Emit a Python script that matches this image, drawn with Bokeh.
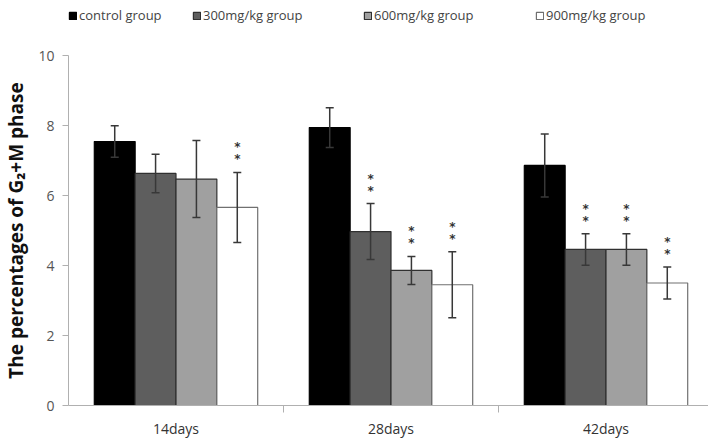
from bokeh.plotting import figure
from bokeh.layouts import column
from bokeh.models import FixedTicker, Legend, LegendItem, ColumnDataSource
from bokeh.core.properties import value
from bokeh.embed import file_html
from bokeh.resources import INLINE

categories = ["14days", "28days", "42days"]
groups = ["control group", "300mg/kg group", "600mg/kg group", "900mg/kg group"]
means = {
    "control group":  [7.54, 7.94, 6.86],
    "300mg/kg group": [6.63, 4.97, 4.46],
    "600mg/kg group": [6.47, 3.86, 4.46],
    "900mg/kg group": [5.66, 3.45, 3.50],
}
errors = {
    "control group":  [0.45, 0.57, 0.90],
    "300mg/kg group": [0.55, 0.80, 0.45],
    "600mg/kg group": [1.10, 0.40, 0.45],
    "900mg/kg group": [1.00, 0.94, 0.46],
}
stars = {
    "control group":  ["", "", ""],
    "300mg/kg group": ["", "*", "*"],
    "600mg/kg group": ["", "*", "*"],
    "900mg/kg group": ["*", "*", "*"],
}
fills = ["#000000", "#5e5e5e", "#a0a0a0", "#ffffff"]
outlines = ["#000000", "#303030", "#303030", "#707070"]
y_ticks = [0, 2, 4, 6, 8, 10]

FONT = "Open Sans"
bw = 0.19
x_end = 640 / 215.0
FRAME_LEFT = 68

# ---- legend strip ----
LH = 30
lf = figure(width=708, height=LH, x_range=(0, 1), y_range=(1, 2),
            x_axis_location=None, y_axis_location=None,
            output_backend="svg", toolbar_location=None,
            min_border_left=0, min_border_right=0, min_border_top=0, min_border_bottom=0)
lf.grid.visible = False
lf.outline_line_color = None
leg_x = [37, 192, 363, 535]
for gi, g in enumerate(groups):
    # legend swatch source (kept outside the visible range of this strip)
    dr = lf.vbar(x=[0], top=[0], width=0.01, fill_color=fills[gi],
                 line_color=outlines[gi], line_width=1.2)
    lg = Legend(items=[LegendItem(label=g, renderers=[dr])],
                location=(max(0, leg_x[gi] - FRAME_LEFT), 6), orientation="horizontal",
                glyph_width=9, glyph_height=9, label_standoff=2, padding=0, margin=0,
                spacing=0, border_line_alpha=0, background_fill_alpha=0,
                label_text_font=FONT, label_text_font_size="13px",
                label_text_color="#444444")
    lf.add_layout(lg, "center")

# ---- main chart ----
p = figure(width=708, height=440 - LH, x_range=(0, x_end), y_range=(0, 10),
           output_backend="svg", toolbar_location=None,
           min_border_left=FRAME_LEFT, min_border_right=0, min_border_top=55 - LH, min_border_bottom=35)
p.outline_line_color = None
p.grid.grid_line_color = None
p.background_fill_color = "white"

for gi, g in enumerate(groups):
    off = (gi - 1.5) * bw
    xs = [i + 0.5 + off for i in range(len(categories))]
    top = means[g]
    lo = [m - e for m, e in zip(top, errors[g])]
    hi = [m + e for m, e in zip(top, errors[g])]
    src = ColumnDataSource(dict(x=xs, top=top, lo=lo, hi=hi, st=stars[g]))
    p.vbar(x="x", top="top", width=bw, bottom=0, source=src,
           fill_color=fills[gi], line_color=outlines[gi], line_width=1.2)
    p.segment(x0="x", y0="lo", x1="x", y1="hi", source=src, line_color="#383838", line_width=1.5)
    p.scatter(x="x", y="lo", source=src, marker="dash", size=8, line_color="#383838", line_width=1.5)
    p.scatter(x="x", y="hi", source=src, marker="dash", size=8, line_color="#383838", line_width=1.5)
    for yo in (-13, -25):
        p.text(x="x", y="hi", text="st", source=src, y_offset=yo,
               text_align="center", text_baseline="middle", text_font=value("DejaVu Sans"),
               text_font_size="12px", text_color="#333333", text_font_style="bold")

p.yaxis.ticker = FixedTicker(ticks=y_ticks)
p.yaxis.axis_line_color = "#b0b0b0"
p.yaxis.major_tick_line_color = "#b0b0b0"
p.yaxis.major_tick_out = 6
p.yaxis.major_tick_in = 0
p.yaxis.minor_tick_line_color = None
p.yaxis.major_label_text_font = FONT
p.yaxis.major_label_text_font_size = "14px"
p.yaxis.major_label_text_color = "#555555"
p.yaxis.major_label_standoff = 8
p.yaxis.axis_label = "The percentages of G\u2082+M phase"
p.yaxis.axis_label_text_font = FONT
p.yaxis.axis_label_text_font_size = "19px"
p.yaxis.axis_label_text_font_style = "bold"
p.yaxis.axis_label_text_color = "#111111"
p.yaxis.axis_label_standoff = 6

p.xaxis.ticker = FixedTicker(ticks=[i + 0.5 for i in range(len(categories))],
                             minor_ticks=[float(i) for i in range(1, len(categories))])
p.xaxis.major_label_overrides = {i + 0.5: c for i, c in enumerate(categories)}
p.xaxis.axis_line_color = "#b0b0b0"
p.xaxis.major_tick_line_color = None
p.xaxis.minor_tick_line_color = "#b0b0b0"
p.xaxis.minor_tick_out = 7
p.xaxis.minor_tick_in = 0
p.xaxis.major_label_standoff = 6
p.xaxis.major_label_text_font = FONT
p.xaxis.major_label_text_font_size = "14px"
p.xaxis.major_label_text_color = "#333333"

layout = column(lf, p, spacing=0)
open("out.html", "w").write(file_html(layout, INLINE))
